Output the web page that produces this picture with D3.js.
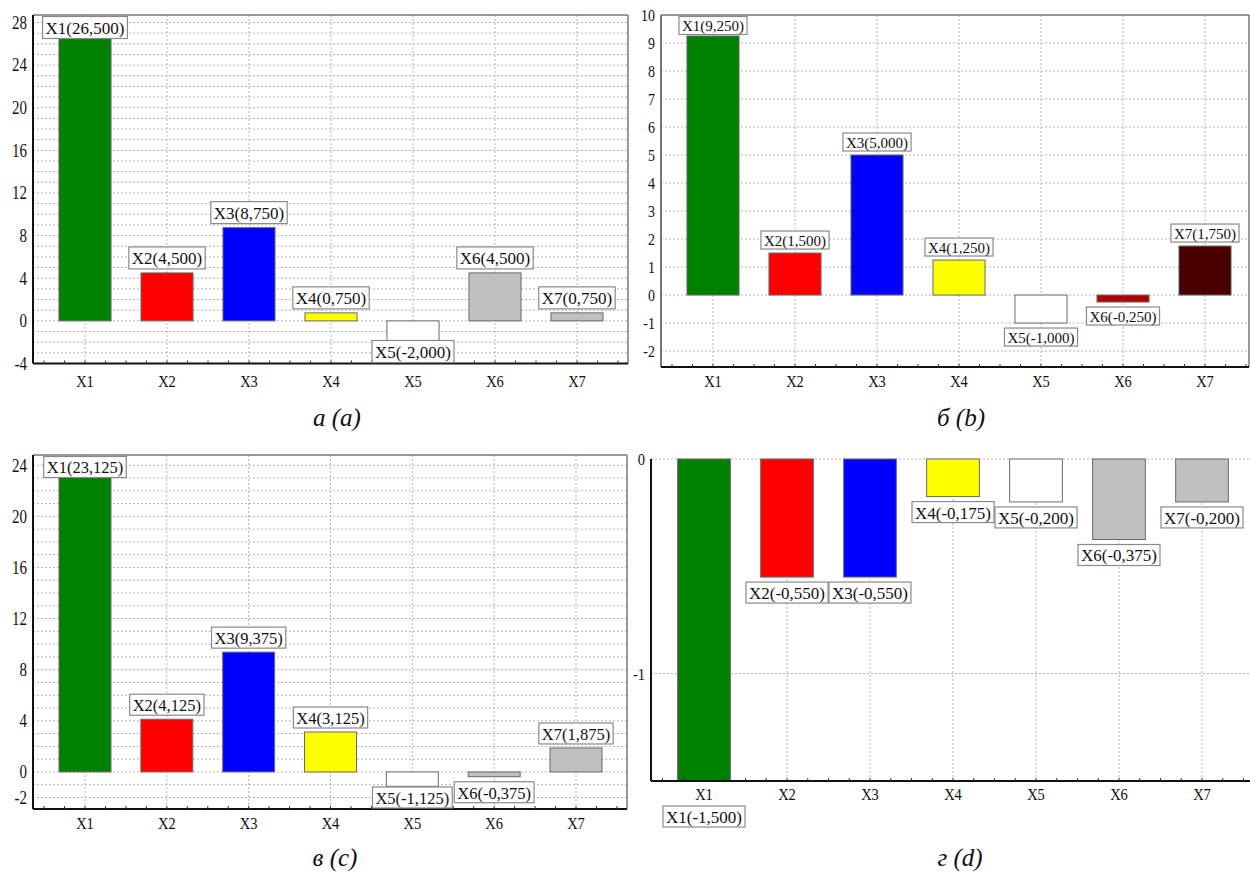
<!DOCTYPE html>
<html lang="en">
<head>
<meta charset="UTF-8">
<title>X1–X7 bar panels</title>
<script src="https://d3js.org/d3.v7.min.js"></script>
<style>
  body { margin: 0; background: #fff; }
  svg { display: block; }
  svg text { font-family: "Liberation Serif", "DejaVu Serif", serif; fill: #111; }
</style>
</head>
<body>
<div id="chart"></div>
<script>
// categories shared by all four panels
const categories = ["X1", "X2", "X3", "X4", "X5", "X6", "X7"];

// series values
const valuesA = [26.5, 4.5, 8.75, 0.75, -2.0, 4.5, 0.75];
const valuesB = [9.25, 1.5, 5.0, 1.25, -1.0, -0.25, 1.75];
const valuesC = [23.125, 4.125, 9.375, 3.125, -1.125, -0.375, 1.875];
const valuesD = [-1.5, -0.55, -0.55, -0.175, -0.2, -0.375, -0.2];

// bar colours
const colorsGrey = ["#008000", "#ff0000", "#0000ff", "#ffff00", "#ffffff", "#c0c0c0", "#c0c0c0"];
const colorsB = ["#008000", "#ff0000", "#0000ff", "#ffff00", "#ffffff", "#b40000", "#4a0000"];

// y tick labels
const ticksA = [-4, 0, 4, 8, 12, 16, 20, 24, 28];
const ticksB = [-2, -1, 0, 1, 2, 3, 4, 5, 6, 7, 8, 9, 10];
const ticksC = [-2, 0, 4, 8, 12, 16, 20, 24];
const ticksD = [-1, 0];

const captions = ["а (a)", "б (b)", "в (c)", "г (d)"];

const locale = d3.formatLocale({decimal: ",", thousands: " ", grouping: [3], currency: ["", ""], minus: "-"});
const fmt = locale.format(".3f");
const fmtTick = locale.format("d");
const serif = '"Liberation Serif", "DejaVu Serif", serif';

const svg = d3.select("#chart").append("svg")
  .attr("width", 1250)
  .attr("height", 872)
  .attr("font-family", serif);

const panels = [
  {values: valuesA, colors: colorsGrey, ticks: ticksA, grid: d3.range(-4, 29, 1), caption: captions[0],
   left: 33, right: 628, top: 15, bottom: 363.5, x1: 85, x7: 577, yDomain: [-4, 28.7],
   labelSize: 17, boxH: 22, tickSize: 15, xLabelSize: 14.5, xLabelDy: 17, frame: true, leftColor: "#111",
   capX: 337, capY: 426},
  {values: valuesB, colors: colorsB, ticks: ticksB, grid: d3.range(-2, 11, 1), caption: captions[1],
   left: 661, right: 1249, top: 15, bottom: 367, x1: 713, x7: 1205, yDomain: [-2.57, 10],
   labelSize: 15, boxH: 18, tickSize: 14, xLabelSize: 14.5, xLabelDy: 14, frame: true, leftColor: "#777",
   capX: 961, capY: 426},
  {values: valuesC, colors: colorsGrey, ticks: ticksC, grid: d3.range(-2, 25, 1), caption: captions[2],
   left: 33, right: 627, top: 455, bottom: 809, x1: 85, x7: 576, yDomain: [-2.9, 24.8],
   labelSize: 16.5, boxH: 21, tickSize: 15, xLabelSize: 14.5, xLabelDy: 14, frame: true, leftColor: "#111",
   capX: 335, capY: 866},
  {values: valuesD, colors: colorsGrey, ticks: ticksD, grid: [-1, 0], caption: captions[3],
   left: 651, right: 1250, top: 459, bottom: 781, x1: 704, x7: 1202, yDomain: [-1.5, 0],
   labelSize: 17, boxH: 21, tickSize: 14.5, xLabelSize: 14.5, xLabelDy: 13, frame: false, leftColor: "#111",
   capX: 960, capY: 866}
];

panels.forEach(drawPanel);

function drawPanel(p) {
  const g = svg.append("g");
  const x = d3.scalePoint().domain(categories).range([p.x1, p.x7]);
  const y = d3.scaleLinear().domain(p.yDomain).range([p.bottom, p.top]);
  const step = x.step();
  const bw = step * 0.635;
  const data = categories.map((c, i) => ({name: c, value: p.values[i], color: p.colors[i]}));

  // horizontal grid
  g.selectAll(".hgrid").data(p.grid).join("line")
    .attr("x1", p.left).attr("x2", p.right)
    .attr("y1", d => y(d)).attr("y2", d => y(d))
    .attr("stroke", "#b4b4b4").attr("stroke-width", 1)
    .attr("stroke-dasharray", "2,2");

  // vertical grid at category centres
  g.selectAll(".vgrid").data(categories).join("line")
    .attr("x1", d => x(d)).attr("x2", d => x(d))
    .attr("y1", p.top).attr("y2", p.bottom)
    .attr("stroke", "#b4b4b4").attr("stroke-width", 1)
    .attr("stroke-dasharray", "2,2");

  // bars
  g.selectAll(".bar").data(data).join("rect")
    .attr("x", d => x(d.name) - bw / 2)
    .attr("y", d => y(Math.max(0, d.value)))
    .attr("width", bw)
    .attr("height", d => Math.abs(y(d.value) - y(0)))
    .attr("fill", d => d.color)
    .attr("stroke", "#6a6a6a").attr("stroke-width", 1);

  // frame
  if (p.frame) {
    g.append("line").attr("x1", p.left).attr("x2", p.right).attr("y1", p.top).attr("y2", p.top)
      .attr("stroke", "#777").attr("stroke-width", 1.5);
    g.append("line").attr("x1", p.right).attr("x2", p.right).attr("y1", p.top).attr("y2", p.bottom)
      .attr("stroke", "#777").attr("stroke-width", 1.5);
  }
  g.append("line").attr("x1", p.left).attr("x2", p.left).attr("y1", p.top).attr("y2", p.bottom)
    .attr("stroke", p.leftColor).attr("stroke-width", 2);
  g.append("line").attr("x1", p.left).attr("x2", p.right).attr("y1", p.bottom).attr("y2", p.bottom)
    .attr("stroke", "#111").attr("stroke-width", 2);

  // minor ticks on the bottom axis
  const minor = [];
  for (let t = p.x1 - step; t <= p.right; t += step / 4) if (t > p.left + 2 && t < p.right - 2) minor.push(t);
  g.selectAll(".mtick").data(minor).join("line")
    .attr("x1", d => d).attr("x2", d => d)
    .attr("y1", p.bottom - 3).attr("y2", p.bottom)
    .attr("stroke", "#333").attr("stroke-width", 1);

  // y tick labels (slightly tall glyphs, as in the original)
  g.selectAll(".ylab").data(p.ticks).join("text")
    .attr("transform", d => `translate(${p.left - 6},${y(d)}) scale(1,1.22)`)
    .attr("dy", "0.35em")
    .attr("text-anchor", "end")
    .attr("font-size", p.tickSize)
    .text(d => fmtTick(d));

  // x tick labels
  g.selectAll(".xlab").data(categories).join("text")
    .attr("transform", d => `translate(${x(d)},${p.bottom + p.xLabelDy}) scale(1,1.22)`)
    .attr("dy", "0.35em")
    .attr("text-anchor", "middle")
    .attr("font-size", p.xLabelSize)
    .text(d => d);

  // value label boxes
  data.forEach(d => {
    const lg = g.append("g");
    const txt = lg.append("text")
      .attr("text-anchor", "middle")
      .attr("dy", "0.35em")
      .attr("font-size", p.labelSize)
      .text(`${d.name}(${fmt(d.value)})`);
    const tw = txt.node().getComputedTextLength();
    const bwBox = tw + 6;
    let top;
    if (d.value >= 0) {
      top = Math.max(p.top + 1.5, y(d.value) - 4 - p.boxH);
    } else {
      const barBottom = y(d.value);
      if (barBottom >= p.bottom - 1) {
        top = p.bottom + 25;   // bar fills the plot: label goes under the axis
      } else {
        top = Math.min(barBottom + 5, p.bottom - 1 - p.boxH);
      }
    }
    const cx = x(d.name);
    lg.insert("rect", "text")
      .attr("x", cx - bwBox / 2)
      .attr("y", top)
      .attr("width", bwBox)
      .attr("height", p.boxH)
      .attr("fill", "#fff")
      .attr("stroke", "#8a8a8a")
      .attr("stroke-width", 1.2);
    txt.attr("x", cx).attr("y", top + p.boxH / 2 + 0.5);
  });

  // caption
  g.append("text")
    .attr("x", p.capX)
    .attr("y", p.capY)
    .attr("text-anchor", "middle")
    .attr("font-size", 25)
    .attr("font-style", "italic")
    .text(p.caption);
}
</script>
</body>
</html>
